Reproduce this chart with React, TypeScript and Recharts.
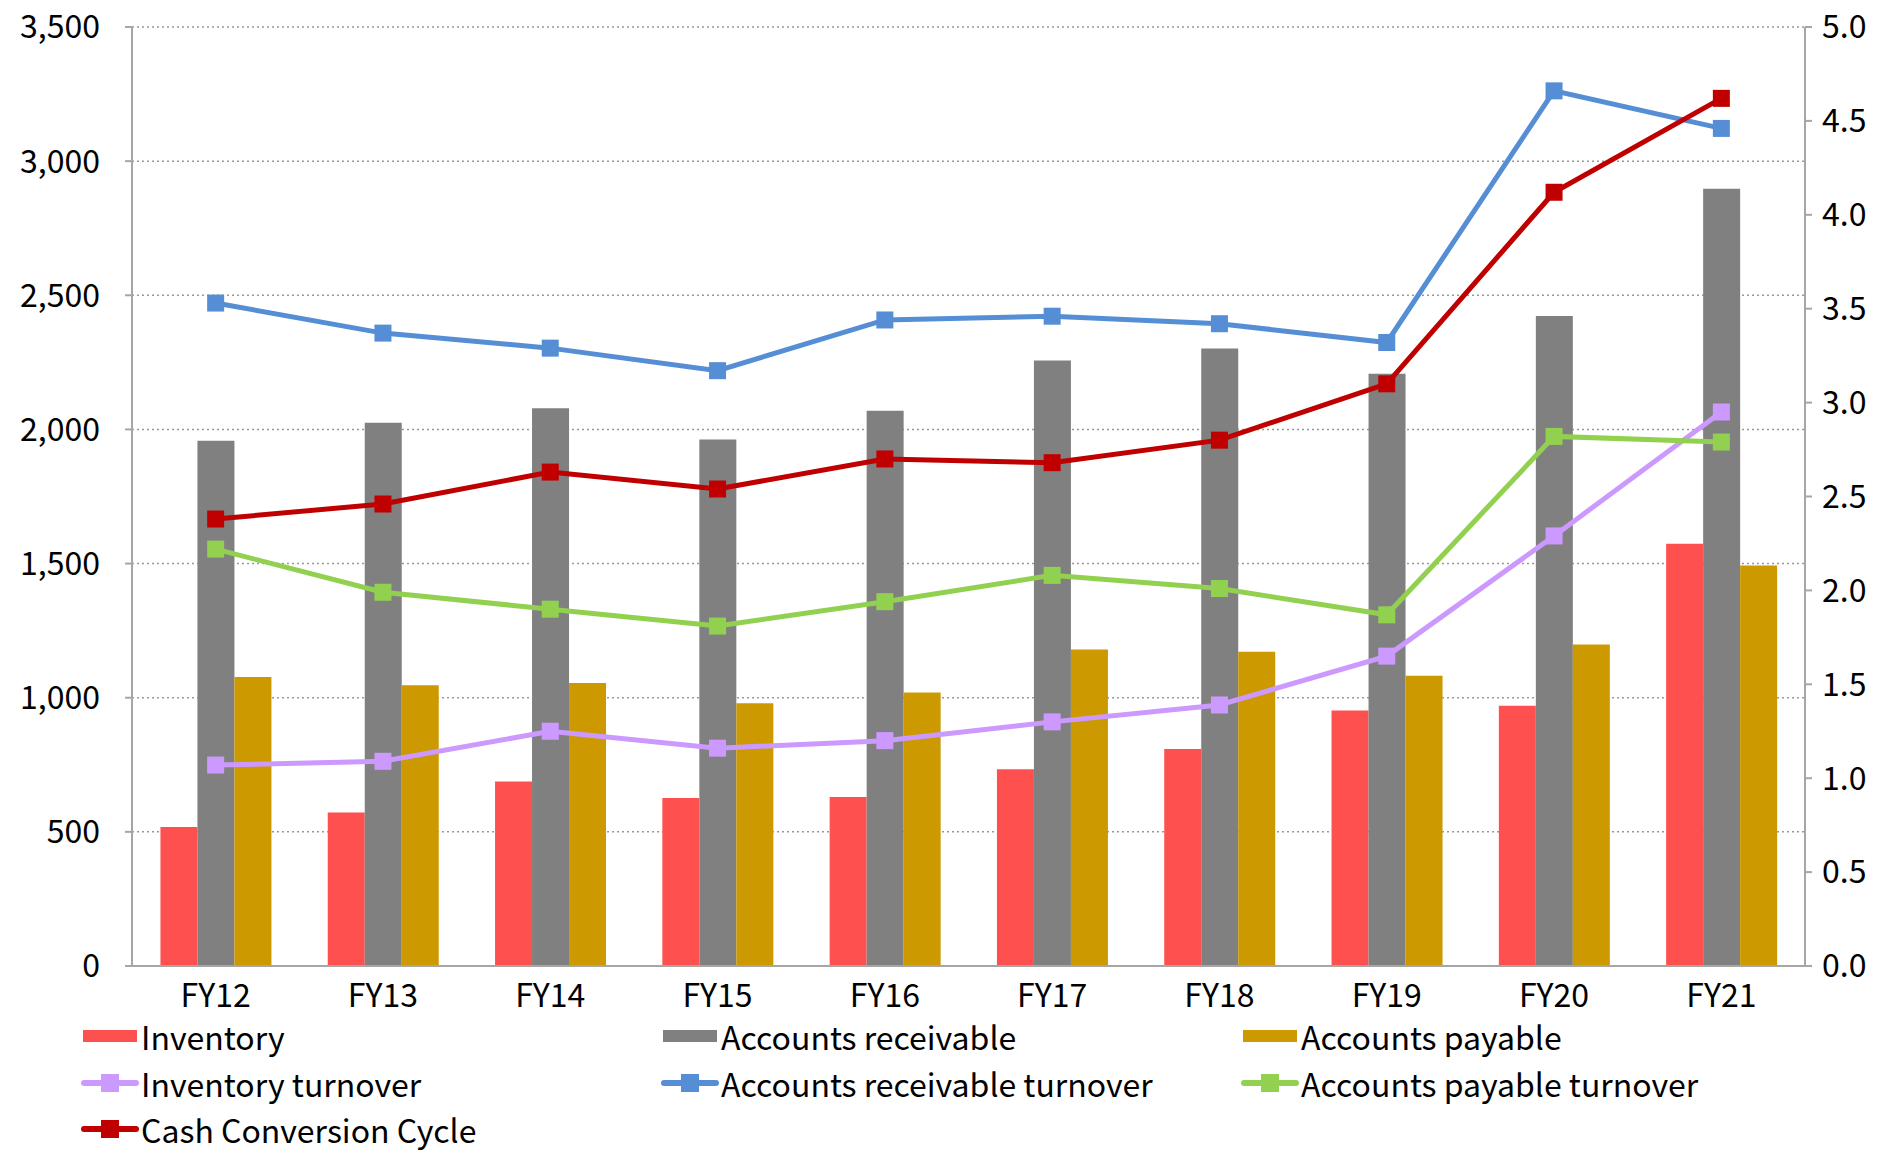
import React from "react";
import {
  ComposedChart,
  Bar,
  Line,
  XAxis,
  YAxis,
  CartesianGrid,
  Legend,
} from "recharts";

const categories = ["FY12", "FY13", "FY14", "FY15", "FY16", "FY17", "FY18", "FY19", "FY20", "FY21"];
const inventory = [518, 572, 688, 626, 630, 733, 809, 952, 970, 1574];
const accountsReceivable = [1958, 2025, 2079, 1962, 2070, 2257, 2302, 2208, 2423, 2897];
const accountsPayable = [1077, 1046, 1055, 979, 1019, 1180, 1171, 1082, 1198, 1493];
const inventoryTurnover = [1.07, 1.09, 1.25, 1.16, 1.2, 1.3, 1.39, 1.65, 2.29, 2.95];
const arTurnover = [3.53, 3.37, 3.29, 3.17, 3.44, 3.46, 3.42, 3.32, 4.66, 4.46];
const apTurnover = [2.22, 1.99, 1.9, 1.81, 1.94, 2.08, 2.01, 1.87, 2.82, 2.79];
const ccc = [2.38, 2.46, 2.63, 2.54, 2.7, 2.68, 2.8, 3.1, 4.12, 4.62];

const leftTicks = [0, 500, 1000, 1500, 2000, 2500, 3000, 3500];
const rightTicks = [0, 0.5, 1, 1.5, 2, 2.5, 3, 3.5, 4, 4.5, 5];

const data = categories.map((c, i) => ({
  name: c,
  inventory: inventory[i],
  ar: accountsReceivable[i],
  ap: accountsPayable[i],
  invT: inventoryTurnover[i],
  arT: arTurnover[i],
  apT: apTurnover[i],
  ccc: ccc[i],
}));

const FONT = "'Noto Sans CJK JP', 'Noto Sans', sans-serif";
const FS = 32;

const legendItems = [
  { label: "Inventory", color: "#FF5050", type: "bar" },
  { label: "Accounts receivable", color: "#808080", type: "bar" },
  { label: "Accounts payable", color: "#CC9900", type: "bar" },
  { label: "Inventory turnover", color: "#CC99FF", type: "line" },
  { label: "Accounts receivable turnover", color: "#558ED5", type: "line" },
  { label: "Accounts payable turnover", color: "#92D050", type: "line" },
  { label: "Cash Conversion Cycle", color: "#C00000", type: "line" },
];

const makeDot = (color: string) => (props: any) => {
  const { cx, cy, index } = props;
  if (cx == null || cy == null) return <g key={index} />;
  const s = 17;
  return <rect key={index} x={cx - s / 2} y={cy - s / 2} width={s} height={s} fill={color} />;
};

const LegendContent = () => (
  <div style={{ position: "relative", width: 1878, height: 128, fontFamily: FONT, fontSize: FS, color: "#000" }}>
    {legendItems.map((it, i) => {
      const col = i % 3;
      const row = Math.floor(i / 3);
      const left = 81 + col * 580;
      const top = row * 46.5;
      return (
        <div key={it.label} style={{ position: "absolute", left, top, height: 30, lineHeight: "30px", display: "flex", alignItems: "center", whiteSpace: "nowrap" }}>
          <svg width={58} height={20} style={{ marginRight: 2 }}>
            {it.type === "bar" ? (
              <rect x={2} y={4} width={54} height={12} fill={it.color} />
            ) : (
              <g>
                <line x1={3} y1={10} x2={55} y2={10} stroke={it.color} strokeWidth={6} strokeLinecap="round" />
                <rect x={20} y={1} width={18} height={18} fill={it.color} />
              </g>
            )}
          </svg>
          <span style={{ display: "block", height: 30, lineHeight: "30px" }}>{it.label}</span>
        </div>
      );
    })}
  </div>
);

export default function App() {
  return (
    <div style={{ width: 1878, height: 1153, background: "#fff" }}>
      <style>{`body{margin:0;}`}</style>
      <ComposedChart
        width={1878}
        height={1153}
        data={data}
        margin={{ top: 27, right: 0, left: 0, bottom: 0 }}
        barCategoryGap="17%"
        barGap={0}
      >
        <CartesianGrid yAxisId="left" vertical={false} stroke="#999" strokeDasharray="2 3" strokeWidth={1.5} />
        <XAxis
          dataKey="name"
          height={59}
          tickLine={false}
          axisLine={{ stroke: "#A6A6A6", strokeWidth: 2 }}
          tick={{ fontFamily: FONT, fontSize: FS, fill: "#000" }}
          tickMargin={12}
          interval={0}
        />
        <YAxis
          yAxisId="left"
          width={132}
          domain={[0, 3500]}
          ticks={leftTicks}
          interval={0}
          tickFormatter={(v: number) => v.toLocaleString("en-US")}
          axisLine={{ stroke: "#A6A6A6", strokeWidth: 2 }}
          tickLine={{ stroke: "#A6A6A6", strokeWidth: 2 }}
          tickSize={7}
          tickMargin={25}
          tick={{ fontFamily: FONT, fontSize: FS, fill: "#000" }}
        />
        <YAxis
          yAxisId="right"
          orientation="right"
          width={73}
          domain={[0, 5]}
          ticks={rightTicks}
          interval={0}
          tickFormatter={(v: number) => v.toFixed(1)}
          axisLine={{ stroke: "#A6A6A6", strokeWidth: 2 }}
          tickLine={{ stroke: "#A6A6A6", strokeWidth: 2 }}
          tickSize={7}
          tickMargin={10}
          tick={{ fontFamily: FONT, fontSize: FS, fill: "#000" }}
        />
        <Legend
          verticalAlign="bottom"
          content={<LegendContent />}
          wrapperStyle={{ left: 0, top: 1021, width: 1878, height: 128 }}
        />
        <Bar yAxisId="left" dataKey="inventory" name="Inventory" fill="#FF5050" isAnimationActive={false} />
        <Bar yAxisId="left" dataKey="ar" name="Accounts receivable" fill="#808080" isAnimationActive={false} />
        <Bar yAxisId="left" dataKey="ap" name="Accounts payable" fill="#CC9900" isAnimationActive={false} />
        <Line yAxisId="right" dataKey="invT" name="Inventory turnover" stroke="#CC99FF" strokeWidth={5} dot={makeDot("#CC99FF")} activeDot={false} isAnimationActive={false} />
        <Line yAxisId="right" dataKey="arT" name="Accounts receivable turnover" stroke="#558ED5" strokeWidth={5} dot={makeDot("#558ED5")} activeDot={false} isAnimationActive={false} />
        <Line yAxisId="right" dataKey="apT" name="Accounts payable turnover" stroke="#92D050" strokeWidth={5} dot={makeDot("#92D050")} activeDot={false} isAnimationActive={false} />
        <Line yAxisId="right" dataKey="ccc" name="Cash Conversion Cycle" stroke="#C00000" strokeWidth={5} dot={makeDot("#C00000")} activeDot={false} isAnimationActive={false} />
      </ComposedChart>
    </div>
  );
}
